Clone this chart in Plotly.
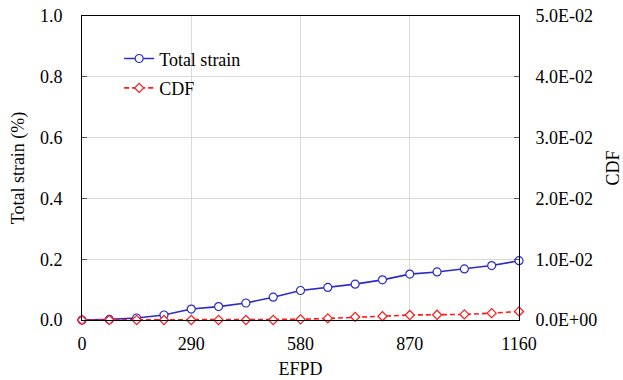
import plotly.graph_objects as go

# EFPD sampling points
efpd = [0, 72.5, 145, 217.5, 290, 362.5, 435, 507.5, 580, 652.5, 725, 797.5, 870, 942.5, 1015, 1087.5, 1160]
# Total strain (%)
total_strain = [0.0, 0.002, 0.0066, 0.0165, 0.036, 0.044, 0.056, 0.075, 0.097, 0.107, 0.118, 0.132,
                0.151, 0.158, 0.168, 0.179, 0.195]
# Cumulative damage fraction
cdf = [0.0, 0.0, 0.0, 0.0, 0.0, 0.0, 0.0, 0.0, 0.00011, 0.00026, 0.0005, 0.00062,
       0.00082, 0.00086, 0.00092, 0.00113, 0.0014]

x_ticks = [0, 290, 580, 870, 1160]
left_ticks = [0.0, 0.2, 0.4, 0.6, 0.8, 1.0]
left_labels = ["0.0", "0.2", "0.4", "0.6", "0.8", "1.0"]
right_ticks = [0.0, 0.01, 0.02, 0.03, 0.04, 0.05]
right_labels = ["0.0E+00", "1.0E-02", "2.0E-02", "3.0E-02", "4.0E-02", "5.0E-02"]

FONT = "Liberation Serif, Times New Roman, serif"
FS = 18
BLUE = "#2b2bc8"
RED = "#ff1a1a"

fig = go.Figure()
fig.add_trace(go.Scatter(
    x=efpd, y=total_strain, name="Total strain", mode="lines+markers",
    line=dict(color=BLUE, width=1.6),
    marker=dict(symbol="circle", size=8, color="white", line=dict(color=BLUE, width=1.2)),
    cliponaxis=False, legendgroup="a",
))
fig.add_trace(go.Scatter(
    x=efpd, y=cdf, name="CDF", mode="lines+markers", yaxis="y2",
    line=dict(color=RED, width=1.6, dash="5px,3px"),
    marker=dict(symbol="diamond", size=7, color="white", line=dict(color=RED, width=1.2)),
    cliponaxis=False, legendgroup="b",
))

fig.update_layout(
    width=623, height=380,
    margin=dict(l=82, r=104, t=16, b=60),
    paper_bgcolor="white", plot_bgcolor="white",
    font=dict(family=FONT, size=FS, color="black"),
    showlegend=True,
    legend=dict(x=0.085, y=0.92, xanchor="left", yanchor="top", bgcolor="rgba(0,0,0,0)",
                font=dict(family=FONT, size=FS), tracegroupgap=3, itemwidth=30),
    xaxis=dict(
        range=[0, 1160], tickvals=x_ticks, ticktext=[str(v) for v in x_ticks],
        showgrid=True, gridcolor="#d9d9d9", gridwidth=1,
        showline=True, linecolor="black", linewidth=1, mirror=True,
        ticks="", zeroline=False, ticklabelstandoff=7, automargin=False,
        tickfont=dict(family=FONT, size=FS),
        title=dict(text="EFPD", standoff=9, font=dict(family=FONT, size=FS)),
    ),
    yaxis=dict(
        range=[0, 1.0], tickvals=left_ticks, ticktext=left_labels,
        showgrid=True, gridcolor="#d9d9d9", gridwidth=1,
        showline=True, linecolor="black", linewidth=1, mirror=True,
        ticks="inside", ticklen=5, tickcolor="#555555", zeroline=False,
        ticklabelstandoff=15, automargin=False, tickfont=dict(family=FONT, size=FS),
        title=dict(text="Total strain (%)", standoff=10, font=dict(family=FONT, size=FS)),
    ),
    yaxis2=dict(
        range=[0, 0.05], tickvals=right_ticks, ticktext=right_labels,
        overlaying="y", side="right", showgrid=False,
        showline=True, linecolor="black", linewidth=1,
        ticks="inside", ticklen=5, tickcolor="#555555", zeroline=False,
        ticklabelstandoff=12, automargin=False, tickfont=dict(family=FONT, size=FS),
        title=dict(text="CDF", standoff=12, font=dict(family=FONT, size=FS)),
    ),
)

fig.write_html("out.html")
